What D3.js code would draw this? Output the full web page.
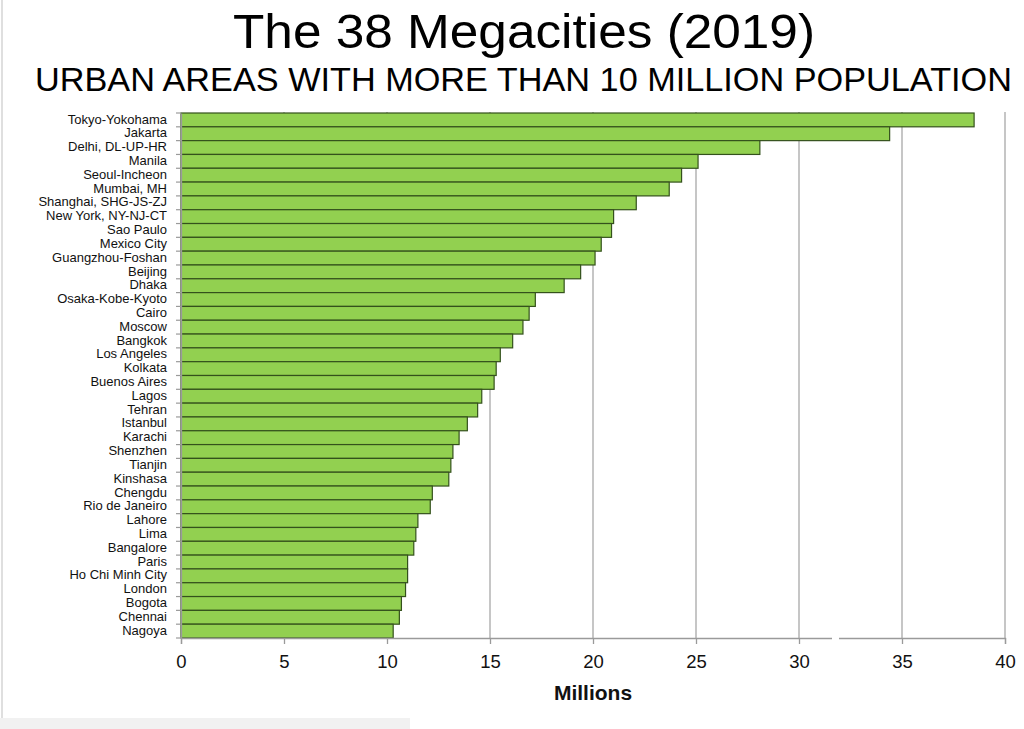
<!DOCTYPE html>
<html>
<head>
<meta charset="utf-8">
<script src="https://cdn.jsdelivr.net/npm/d3@7"></script>
<style>
  html, body { margin: 0; padding: 0; background: #fff; }
  svg { display: block; }
</style>
</head>
<body>
<svg id="chart" width="1024" height="729"></svg>
<script>
const titleText = "The 38 Megacities (2019)";
const subtitleText = "URBAN AREAS WITH MORE THAN 10 MILLION POPULATION";
const axisTitle = "Millions";

const cities = [
  "Tokyo-Yokohama", "Jakarta", "Delhi, DL-UP-HR", "Manila", "Seoul-Incheon",
  "Mumbai, MH", "Shanghai, SHG-JS-ZJ", "New York, NY-NJ-CT", "Sao Paulo", "Mexico City",
  "Guangzhou-Foshan", "Beijing", "Dhaka", "Osaka-Kobe-Kyoto", "Cairo",
  "Moscow", "Bangkok", "Los Angeles", "Kolkata", "Buenos Aires",
  "Lagos", "Tehran", "Istanbul", "Karachi", "Shenzhen",
  "Tianjin", "Kinshasa", "Chengdu", "Rio de Janeiro", "Lahore",
  "Lima", "Bangalore", "Paris", "Ho Chi Minh City", "London",
  "Bogota", "Chennai", "Nagoya"
];
const population = [
  38.5, 34.4, 28.1, 25.1, 24.3,
  23.7, 22.1, 21.0, 20.9, 20.4,
  20.1, 19.4, 18.6, 17.2, 16.9,
  16.6, 16.1, 15.5, 15.3, 15.2,
  14.6, 14.4, 13.9, 13.5, 13.2,
  13.1, 13.0, 12.2, 12.1, 11.5,
  11.4, 11.3, 11.0, 11.0, 10.9,
  10.7, 10.6, 10.3
];
const xTicks = [0, 5, 10, 15, 20, 25, 30, 35, 40];

const data = cities.map((c, i) => ({ city: c, value: population[i] }));

const svg = d3.select("#chart");
const FONT = "'Liberation Sans', Arial, Helvetica, sans-serif";

// image-border artifacts
svg.append("line").attr("x1", 2).attr("x2", 2).attr("y1", 0).attr("y2", 718)
  .attr("stroke", "#d4d4d4").attr("stroke-width", 1.5);
svg.append("rect").attr("x", 0).attr("y", 718).attr("width", 410).attr("height", 11)
  .attr("fill", "#f1f1f1");

const x = d3.scaleLinear().domain([0, 40]).range([181, 1005]);
const y = d3.scaleBand().domain(cities).range([113, 638]).padding(0);

// Titles
svg.append("text")
  .attr("x", 524).attr("y", 48)
  .attr("text-anchor", "middle")
  .attr("font-family", FONT).attr("font-size", 49)
  .attr("textLength", 582).attr("lengthAdjust", "spacingAndGlyphs")
  .attr("fill", "#000")
  .text(titleText);

svg.append("text")
  .attr("x", 523.5).attr("y", 91)
  .attr("text-anchor", "middle")
  .attr("font-family", FONT).attr("font-size", 33.5)
  .attr("textLength", 977).attr("lengthAdjust", "spacingAndGlyphs")
  .attr("fill", "#000")
  .text(subtitleText);

// Gridlines
svg.append("g").selectAll("line")
  .data(xTicks.filter(t => t > 0))
  .join("line")
  .attr("x1", d => x(d)).attr("x2", d => x(d))
  .attr("y1", 112).attr("y2", 638)
  .attr("stroke", "#a8a8a8").attr("stroke-width", 1.3);

// Bars
svg.append("g").selectAll("rect")
  .data(data)
  .join("rect")
  .attr("x", x(0))
  .attr("y", d => y(d.city))
  .attr("width", d => x(d.value) - x(0))
  .attr("height", y.bandwidth())
  .attr("fill", "#92d050")
  .attr("stroke", "#34511c")
  .attr("stroke-width", 1.2);

// X axis
const xAxis = svg.append("g")
  .attr("transform", "translate(0,638)")
  .call(d3.axisBottom(x).tickValues(xTicks).tickSize(6).tickPadding(11).tickFormat(d3.format("d")));
xAxis.select(".domain").attr("stroke", "#9a9a9a").attr("stroke-width", 1.3);
xAxis.selectAll(".tick line").attr("stroke", "#9a9a9a").attr("stroke-width", 1.3);
xAxis.selectAll(".tick text")
  .attr("font-family", FONT).attr("font-size", 18.5).attr("fill", "#111");

// small gap artifact in axis line
svg.append("rect").attr("x", 832).attr("y", 636).attr("width", 7).attr("height", 4).attr("fill", "#fff");

// Y axis
const yAxis = svg.append("g")
  .attr("transform", "translate(181,0)")
  .call(d3.axisLeft(y).tickSize(0).tickPadding(14));
yAxis.select(".domain").attr("stroke", "#9a9a9a").attr("stroke-width", 1.3);
yAxis.selectAll(".tick text")
  .attr("font-family", FONT).attr("font-size", 13).attr("fill", "#111")
  .attr("dy", "0.28em");

// band-boundary tick marks on y axis
const boundaries = cities.map(c => y(c)).concat([y.range()[1]]);
svg.append("g").selectAll("line")
  .data(boundaries)
  .join("line")
  .attr("x1", 176).attr("x2", 181)
  .attr("y1", d => d).attr("y2", d => d)
  .attr("stroke", "#9a9a9a").attr("stroke-width", 1.2);

// Axis title
svg.append("text")
  .attr("x", 593).attr("y", 700)
  .attr("text-anchor", "middle")
  .attr("font-family", FONT).attr("font-size", 21).attr("font-weight", "bold")
  .attr("fill", "#111")
  .text(axisTitle);
</script>
</body>
</html>
